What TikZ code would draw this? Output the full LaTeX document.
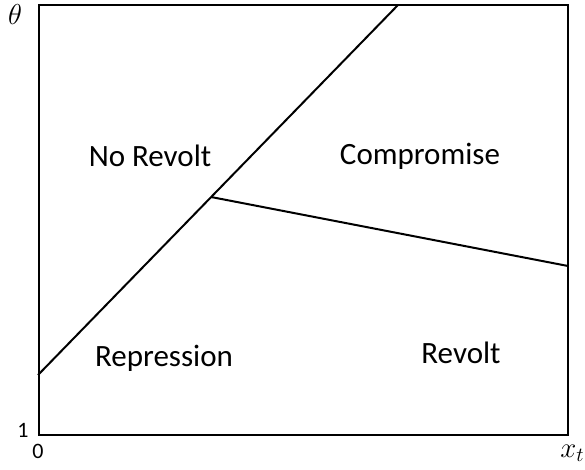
\documentclass[tikz,border=0pt]{standalone}
\usepackage{fontspec}
\setsansfont{Carlito}
\usetikzlibrary{positioning}

\begin{document}
\begin{tikzpicture}[x=0.5pt,y=-0.5pt,
        region/.style={font=\sffamily\fontsize{15.5}{18}\selectfont,inner sep=0pt},
        tick/.style={font=\sffamily\fontsize{11}{13}\selectfont,inner sep=0pt},
        axis/.style={font=\fontsize{14.5}{17}\selectfont,inner sep=0pt},
        frame/.style={draw,line width=1.1pt},
        bound/.style={line width=1pt}]
        \useasboundingbox (0,0) rectangle (585,470);
        \clip (0,0) rectangle (585,470);

        % corners of the plot
        \coordinate (bl) at (39,435);
        \coordinate (tr) at (568,5);
        \draw[frame] (bl) rectangle (tr);

        % region boundaries
        \coordinate (lo)   at (38,375);
        \coordinate (hi)   at (398,5);
        \coordinate (kink) at (211,197);
        \coordinate (rt)   at (568,266);
        \draw[bound] (lo) -- (hi);
        \draw[bound] (kink) -- (rt);

        % regions
        \node[region] (norev) at (150,156) {No Revolt};
        \node[region] (comp)  at (420,156) {Compromise};
        \node[region] (repr)  at (164,358) {Repression};
        \node[region] (rev)   at (461,353) {Revolt};

        % axes
        \node[axis] (theta) at (15,15) {$\theta$};
        \node[axis,anchor=west] (xt) at (560,453) {$x_t$};
        \node[tick] (one)  at (23,430) {1};
        \node[tick] (zero) at (38,451) {0};
      \end{tikzpicture}
\end{document}
